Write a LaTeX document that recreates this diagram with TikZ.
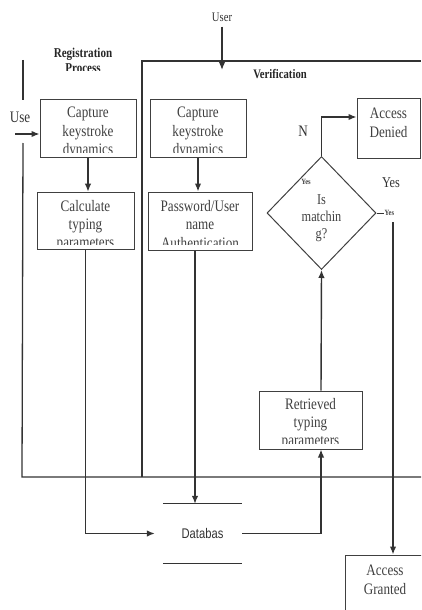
\documentclass[tikz,border=0pt]{standalone}
\usepackage{fontspec}
\setmainfont{Liberation Serif}[FakeStretch=0.82]
\newfontfamily\dbfont{Liberation Sans}[FakeStretch=0.8]
\usetikzlibrary{arrows.meta,shapes.geometric}
\tikzset{
  box/.style={draw=black!75, line width=1pt, inner sep=0pt},
  boxtext/.style={align=center, text=black!75, inner sep=0pt, anchor=north, font=\fontsize{16}{18.4}\selectfont},
  decision/.style={diamond, draw=black!75, line width=1pt, inner sep=0pt, minimum width=109pt, minimum height=113pt},
  outline/.style={draw=black!80, line width=1.3pt},
  arrow/.style={-{Latex[length=8pt,width=6.5pt]}, line width=1.4pt, draw=black!80},
  lbl/.style={text=black!80, inner sep=0pt, font=\fontsize{15}{17}\selectfont},
  heading/.style={text=black!85, inner sep=0pt, align=center, font=\bfseries\fontsize{13.5}{15}\selectfont},
  smalllbl/.style={text=black!75, inner sep=0.5pt, fill=white, font=\bfseries\fontsize{8}{9}\selectfont}
}
\begin{document}
\begin{tikzpicture}[x=1pt, y=-1pt]
\useasboundingbox (0,0) rectangle (421,610);
\clip (0,0) rectangle (421,610);
% titles
\node[lbl, font=\fontsize{13}{14}\selectfont] (user) at (222,17) {User};
\begin{scope}
  \clip (30,40) rectangle (140,70.5);
  \node[heading, anchor=north] (regtitle) at (83,48) {Registration\\Process};
\end{scope}
\node[heading, font=\bfseries\fontsize{13}{15}\selectfont] (vertitle) at (280,74) {Verification};
\node[lbl, font=\fontsize{16}{17}\selectfont] (use) at (20,117) {Use};
% frames
\draw[outline] (23,60) -- (23,100);
\draw[outline] (23,143) -- (22,477) -- (421,477);
\draw[outline] (142,477) -- (142,61) -- (421,61);
% registration column
\node[box, minimum width=96, minimum height=58] (capreg) at (88,128) {};
\begin{scope}
  \clip ([yshift=5.5]capreg.south west) rectangle (capreg.north east);
  \node[boxtext] (capregtxt) at ([yshift=-8.5]capreg.north) {Capture\\keystroke\\dynamics};
\end{scope}
\node[box, minimum width=97, minimum height=57] (calc) at (85.5,220.7) {};
\begin{scope}
  \clip ([yshift=5.5]calc.south west) rectangle (calc.north east);
  \node[boxtext] (calctxt) at ([yshift=-8]calc.north) {Calculate\\typing\\parameters};
\end{scope}
% verification column
\node[box, minimum width=96, minimum height=58] (capver) at (198,128) {};
\begin{scope}
  \clip ([yshift=5.5]capver.south west) rectangle (capver.north east);
  \node[boxtext] (capvertxt) at ([yshift=-8.5]capver.north) {Capture\\keystroke\\dynamics};
\end{scope}
\node[box, minimum width=104, minimum height=58] (pwd) at (200,221) {};
\begin{scope}
  \clip ([yshift=6]pwd.south west) rectangle (pwd.north east);
  \node[boxtext] (pwdtxt) at ([yshift=-8.7]pwd.north) {Password/User\\name\\Authentication};
\end{scope}
\node[box, minimum width=103, minimum height=58] (retr) at (310.5,420) {};
\begin{scope}
  \clip ([yshift=6]retr.south west) rectangle (retr.north east);
  \node[boxtext] (retrtxt) at ([yshift=-7.3]retr.north) {Retrieved\\typing\\parameters};
\end{scope}
\node[decision] (match) at (321.5,213) {};
\node[boxtext, font=\fontsize{15}{17}\selectfont] (matchtxt) at (321.5,194.5) {Is\\matchin\\g?};
\node[box, minimum width=63, minimum height=60] (denied) at (388.5,128) {};
\node[boxtext, font=\fontsize{16}{19}\selectfont] (deniedtxt) at ([yshift=-10]denied.north) {Access\\Denied};
\node[box, minimum width=80, minimum height=70] (granted) at (385,590) {};
\node[boxtext, font=\fontsize{16}{19}\selectfont] (grantedtxt) at ([yshift=-10]granted.north) {Access\\Granted};
% database
\node[inner sep=0pt, minimum width=79, minimum height=59, text=black!80, font=\dbfont\fontsize{14}{16}\selectfont] (db) at (202.5,533.5) {Databas};
\draw[outline] (db.north west) -- (db.north east);
\draw[outline] (db.south west) -- (db.south east);
% labels
\node[lbl, font=\fontsize{16}{17}\selectfont] (nlbl) at (303,131) {N};
\node[lbl] (yeslbl) at (391,183) {Yes};
\node[smalllbl] (yesa) at (306,182) {Yes};
\node[smalllbl, anchor=west] (yesb) at (384,213) {Yes};
% connectors
\coordinate (userend) at (222,70);
\draw[arrow, shorten <=5pt] (user.south) -- (userend);
\coordinate (usestart) at (15,134);
\draw[arrow] (usestart) -- (usestart -| capreg.west);
\draw[arrow] (capreg.south) -- (capreg.south |- calc.north);
\draw[arrow] (capver.south) -- (capver.south |- pwd.north);
\draw[arrow] (calc.south) |- ([xshift=-8]db.west);
\draw[arrow] ([xshift=-5]pwd.south) -- ([xshift=-7.5]db.north);
\draw[arrow] (db.east) -| ([xshift=10.5]retr.south);
\draw[arrow] ([xshift=10.5]retr.north) -- (match.south);
\draw[arrow] (match.north) |- ([yshift=11]denied.west);
\draw[outline, line width=0.7pt] (match.east) -- (yesb.west);
\coordinate (yestop) at (393,222);
\draw[arrow] (yestop) -- (yestop |- granted.north);
\end{tikzpicture}
\end{document}
